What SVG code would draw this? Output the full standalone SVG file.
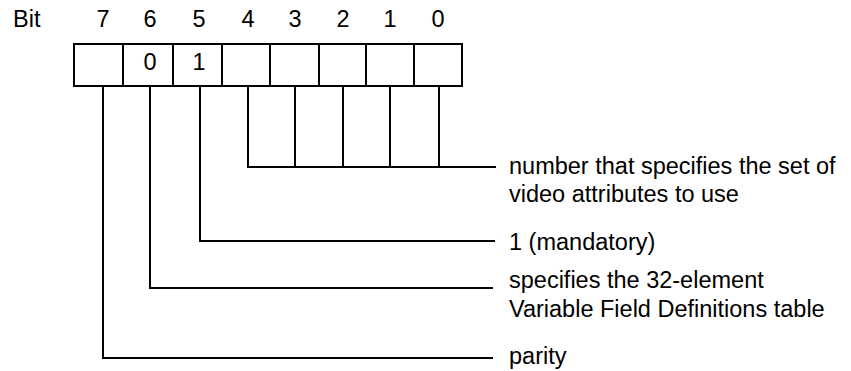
<svg xmlns="http://www.w3.org/2000/svg" width="851" height="371" viewBox="0 0 851 371">
<style>
text{font-family:"Liberation Sans",Arial,sans-serif;font-size:23.5px;fill:#000}
.c{text-anchor:middle}
.ln{fill:none;stroke:#000;stroke-width:2}
</style>
<rect width="851" height="371" fill="#fff"/>
<g id="header">
<text x="13" y="27">Bit</text>
<text class="c" x="103" y="27">7</text>
<text class="c" x="150" y="27">6</text>
<text class="c" x="199" y="27">5</text>
<text class="c" x="248" y="27">4</text>
<text class="c" x="295" y="27">3</text>
<text class="c" x="343" y="27">2</text>
<text class="c" x="390" y="27">1</text>
<text class="c" x="438" y="27">0</text>
</g>
<g id="register">
<rect class="ln" x="74" y="44" width="388" height="42"/>
<path class="ln" d="M123,44V86M173,44V86M222,44V86M270,44V86M319,44V85M366,44V86M414,44V86"/>
<text class="c" x="150" y="70">0</text>
<text class="c" x="199" y="70">1</text>
</g>
<g id="connectors">
<path class="ln" d="M248,86V167H496M295,86V167M343,86V167M390,86V167M439,86V168"/>
<path class="ln" d="M200,86V241H495"/>
<path class="ln" d="M150,86V288H493"/>
<path class="ln" d="M103,86V358H493"/>
</g>
<g id="label-video">
<text x="509" y="174">number that specifies the set of</text>
<text x="509" y="202">video attributes to use</text>
</g>
<g id="label-mandatory">
<text x="509" y="250">1 (mandatory)</text>
</g>
<g id="label-vfd">
<text x="509" y="288">specifies the 32-element</text>
<text x="509" y="317">Variable Field Definitions table</text>
</g>
<g id="label-parity">
<text x="509" y="364">parity</text>
</g>
</svg>
